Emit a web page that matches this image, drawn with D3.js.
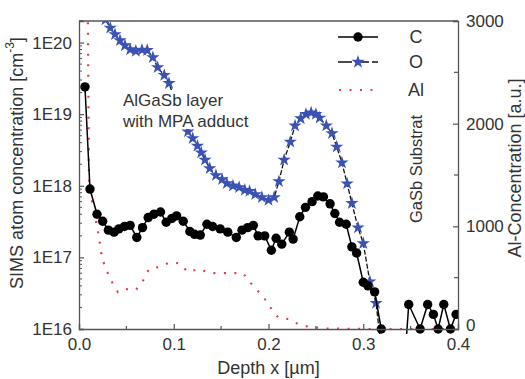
<!DOCTYPE html>
<html>
<head>
<meta charset="utf-8">
<script src="https://cdn.jsdelivr.net/npm/d3@7"></script>
<style>
  body { margin: 0; background: #fff; }
  text { font-family: "Liberation Sans", Arial, sans-serif; fill: #333; }
</style>
</head>
<body>
<svg id="chart" width="525" height="379"></svg>
<script>
// depth in µm, C and O in atoms/cm^3 (left log axis), Al in a.u. (right axis)
const cDepth = [0.0063, 0.0116, 0.019, 0.025, 0.031, 0.037, 0.042, 0.048, 0.054, 0.061,
  0.067, 0.073, 0.079, 0.086, 0.092, 0.098, 0.103, 0.110, 0.117, 0.122,
  0.128, 0.135, 0.141, 0.149, 0.157, 0.166, 0.172, 0.178, 0.184, 0.189,
  0.196, 0.203, 0.208, 0.214, 0.222, 0.226, 0.233, 0.239, 0.246, 0.252,
  0.258, 0.265, 0.270, 0.275, 0.282, 0.288, 0.293, 0.300, 0.305, 0.312,
  0.319, 0.332, 0.345, 0.348, 0.360, 0.368, 0.374, 0.379, 0.385, 0.392, 0.398];
const cValue = [2.4e19, 9e17, 4e17, 3.2e17, 2.4e17, 2.25e17, 2.5e17, 2.7e17, 2.8e17, 1.9e17,
  2.6e17, 3.6e17, 4e17, 4.3e17, 3.1e17, 3.5e17, 3.8e17, 3.2e17, 2.3e17, 2.1e17,
  2.05e17, 2.9e17, 2.7e17, 2.5e17, 2.25e17, 1.9e17, 2.4e17, 2.6e17, 2.8e17, 2.0e17,
  2.0e17, 1.26e17, 1.85e17, 1.53e17, 2.25e17, 1.8e17, 3.7e17, 5e17, 6e17, 7.2e17,
  7e17, 5.6e17, 4.1e17, 3.1e17, 2.9e17, 1.4e17, 1.15e17, 4.5e16, 4e16, 3.3e16,
  1.0e16, null, 6e15, 2.2e16, 1.0e16, 2.2e16, 1.6e16, 1.0e16, 2.2e16, 1.0e16, 1.6e16];

const oDepth = [0.022, 0.028, 0.033, 0.038, 0.0433, 0.0485, 0.054, 0.060, 0.0665, 0.072, 0.078,
  0.083, 0.090, 0.095, 0.101, 0.108, 0.115, 0.120, 0.125, 0.129, 0.133,
  0.138, 0.1445, 0.151, 0.156, 0.1625, 0.169, 0.175, 0.180, 0.186, 0.193,
  0.200, 0.206, 0.211, 0.2165, 0.223, 0.228, 0.234, 0.2395, 0.245, 0.250,
  0.254, 0.261, 0.267, 0.272, 0.2775, 0.283, 0.288, 0.2945, 0.300, 0.307,
  0.3135, 0.318];
const oValue = [3e20, 2.1e20, 1.6e20, 1.3e20, 1.07e20, 9.1e19, 8e19, 7.6e19, 7.9e19, 7.8e19, 6.2e19,
  4.5e19, 3.5e19, 2.7e19, 1.6e19, 9e18, 5.7e18, 4.6e18, 3.6e18, 2.9e18, 2.3e18,
  1.75e18, 1.4e18, 1.23e18, 1.08e18, 1.0e18, 9.5e17, 8.7e17, 8.4e17, 7.6e17, 6.9e17,
  6.3e17, 6.9e17, 1.15e18, 2.3e18, 4.1e18, 6.9e18, 8.7e18, 1.0e19, 1.05e19, 1.0e19,
  8.9e18, 6.9e18, 5.4e18, 3.5e18, 2.1e18, 1.07e18, 5.7e17, 2.6e17, 1.57e17, 4.6e16,
  2.3e16, 7e15];

const alDepth = [0.009, 0.0106, 0.0148, 0.019, 0.021, 0.0243, 0.0285, 0.034, 0.041, 0.0485,
  0.060, 0.0675, 0.074, 0.0844, 0.096, 0.1055, 0.115, 0.1266, 0.138, 0.150,
  0.1615, 0.173, 0.1836, 0.194, 0.2016, 0.210, 0.2216, 0.233, 0.244, 0.260,
  0.300, 0.400];
const alValue = [3500, 1400, 1190, 1000, 895, 690, 585, 470, 360, 390,
  380, 470, 585, 605, 650, 640, 555, 585, 545, 545,
  545, 545, 420, 320, 215, 115, 95, 40, 20, 5,
  0, 0];

const xTicks = [0, 0.1, 0.2, 0.3, 0.4];
const xMinor = [0.05, 0.15, 0.25, 0.35];
const yTicks = [1e16, 1e17, 1e18, 1e19, 1e20];
const rTicks = [0, 1000, 2000, 3000];
const rMinor = [500, 1500, 2500];

const svg = d3.select("#chart");
const mLeft = 79, mRight = 458, mTop = 21, mBottom = 329;

const x = d3.scaleLinear().domain([0, 0.4]).range([mLeft, mRight]);
const y = d3.scaleLog().domain([1e16, 2e20]).range([mBottom, mTop]);
const yR = d3.scaleLinear().domain([0, 3000]).range([mBottom, mTop]);

svg.append("clipPath").attr("id", "plotClip")
  .append("rect").attr("x", mLeft).attr("y", mTop)
  .attr("width", mRight - mLeft).attr("height", mBottom - mTop + 5);

const plot = svg.append("g").attr("clip-path", "url(#plotClip)");

// Al, dotted red line on the right axis
const alData = alDepth.map((d, i) => [d, alValue[i]]);
plot.append("path")
  .attr("d", d3.line().x(d => x(d[0])).y(d => yR(d[1]))(alData))
  .attr("fill", "none")
  .attr("stroke", "#e0404e")
  .attr("stroke-width", 2.2)
  .attr("stroke-dasharray", "2,8.5");

// O, dashed black line with blue stars
const oData = oDepth.map((d, i) => [d, oValue[i]]);
plot.append("path")
  .attr("d", d3.line().x(d => x(d[0])).y(d => y(d[1]))(oData))
  .attr("fill", "none")
  .attr("stroke", "#111")
  .attr("stroke-width", 1.3)
  .attr("stroke-dasharray", "5,2");

const star = d3.symbol().type(d3.symbolStar).size(55);
plot.selectAll(".star")
  .data(oData.filter(d => d[1] >= 1e16))
  .join("path")
  .attr("class", "star")
  .attr("d", star)
  .attr("transform", d => `translate(${x(d[0])},${y(d[1])})`)
  .attr("fill", "#3b52b5");

// C, solid black line with circles
const cData = cDepth.map((d, i) => [d, cValue[i]]);
plot.append("path")
  .attr("d", d3.line()
    .defined(d => d[1] !== null)
    .x(d => x(d[0])).y(d => y(d[1]))(cData))
  .attr("fill", "none")
  .attr("stroke", "#000")
  .attr("stroke-width", 1.5);

plot.selectAll(".dot")
  .data(cData.filter(d => d[1] !== null && d[1] >= 1e16))
  .join("circle")
  .attr("class", "dot")
  .attr("cx", d => x(d[0]))
  .attr("cy", d => y(d[1]))
  .attr("r", 4.7)
  .attr("fill", "#000");

// annotation, white box hides the line behind it
svg.append("rect")
  .attr("x", 121).attr("y", 90).attr("width", 140).attr("height", 39)
  .attr("fill", "#fff");
svg.append("text").attr("x", 123).attr("y", 106)
  .style("font-size", "17px").text("AlGaSb layer");
svg.append("text").attr("x", 123).attr("y", 127)
  .style("font-size", "17px").text("with MPA adduct");

svg.append("text")
  .attr("transform", "translate(416,169) rotate(-90)")
  .attr("text-anchor", "middle")
  .attr("dominant-baseline", "central")
  .style("font-size", "16.5px")
  .text("GaSb Substrat");

// axes
const axisColor = "#555";
svg.append("line").attr("x1", mLeft).attr("x2", mRight).attr("y1", mTop).attr("y2", mTop)
  .attr("stroke", axisColor).attr("stroke-width", 1.3);

const xAxis = svg.append("g")
  .attr("transform", `translate(0,${mBottom})`)
  .call(d3.axisBottom(x).tickValues(xTicks).tickSize(-5).tickPadding(9)
    .tickFormat(d3.format(".1f")));
svg.append("g").selectAll("line")
  .data(xMinor).join("line")
  .attr("x1", d => x(d)).attr("x2", d => x(d))
  .attr("y1", mBottom).attr("y2", mBottom - 3)
  .attr("stroke", axisColor).attr("stroke-width", 1.2);

const yAxis = svg.append("g")
  .attr("transform", `translate(${mLeft},0)`)
  .call(d3.axisLeft(y).tickValues(yTicks).tickSize(-5).tickPadding(7)
    .tickFormat(d => "1E" + Math.round(Math.log10(d))));
const yMinor = [];
for (let e = 16; e <= 20; e++) {
  for (let m = 2; m <= 9; m++) {
    const v = m * Math.pow(10, e);
    if (v <= 2e20) yMinor.push(v);
  }
}
svg.append("g").selectAll("line")
  .data(yMinor).join("line")
  .attr("x1", mLeft).attr("x2", mLeft + 3)
  .attr("y1", d => y(d)).attr("y2", d => y(d))
  .attr("stroke", axisColor).attr("stroke-width", 1);

const rAxis = svg.append("g")
  .attr("transform", `translate(${mRight},0)`)
  .call(d3.axisRight(yR).tickValues(rTicks).tickSize(-5).tickPadding(8)
    .tickFormat(d3.format("d")));
svg.append("g").selectAll("line")
  .data(rMinor).join("line")
  .attr("x1", mRight).attr("x2", mRight - 4)
  .attr("y1", d => yR(d)).attr("y2", d => yR(d))
  .attr("stroke", axisColor).attr("stroke-width", 1.2);

[xAxis, yAxis, rAxis].forEach(a => {
  a.select(".domain").attr("stroke", axisColor).attr("stroke-width", 1.3);
  a.selectAll(".tick line").attr("stroke", axisColor).attr("stroke-width", 1.2);
  a.selectAll(".tick text")
    .attr("fill", "#333")
    .style("font-family", "'Liberation Sans', Arial, sans-serif")
    .style("font-size", "17px");
});
// the "0" of the right axis sits just above the "0.4" of the x axis
rAxis.selectAll(".tick text").filter(d => d === 0).attr("dy", "0.1em");

// axis titles
svg.append("text")
  .attr("x", x(0.2)).attr("y", 374)
  .attr("text-anchor", "middle")
  .style("font-size", "18px")
  .text("Depth x [µm]");

const yTitle = svg.append("text")
  .attr("transform", "translate(17,163) rotate(-90)")
  .attr("text-anchor", "middle")
  .attr("dominant-baseline", "central")
  .style("font-size", "18px");
yTitle.append("tspan").text("SIMS atom concentration [cm");
yTitle.append("tspan").attr("dy", -7).style("font-size", "12px").text("-3");
yTitle.append("tspan").attr("dy", 7).text("]");

svg.append("text")
  .attr("transform", "translate(515,168) rotate(-90)")
  .attr("text-anchor", "middle")
  .attr("dominant-baseline", "central")
  .style("font-size", "18px")
  .text("Al-Concentration [a.u.]");

// legend
const legendNames = ["C", "O", "Al"];
const legendY = [37, 62, 90];
const lg = svg.append("g");
lg.append("line").attr("x1", 338).attr("x2", 378).attr("y1", legendY[0]).attr("y2", legendY[0])
  .attr("stroke", "#000").attr("stroke-width", 1.5);
lg.append("circle").attr("cx", 358).attr("cy", legendY[0]).attr("r", 4.7).attr("fill", "#000");
lg.append("line").attr("x1", 338).attr("x2", 378).attr("y1", legendY[1]).attr("y2", legendY[1])
  .attr("stroke", "#111").attr("stroke-width", 1.5).attr("stroke-dasharray", "14,3");
lg.append("path").attr("d", star).attr("transform", `translate(358,${legendY[1]})`)
  .attr("fill", "#3b52b5");
lg.append("line").attr("x1", 339).attr("x2", 381).attr("y1", legendY[2]).attr("y2", legendY[2])
  .attr("stroke", "#e0404e").attr("stroke-width", 2.2).attr("stroke-dasharray", "2,8.5");
lg.selectAll(".lbl").data(legendNames).join("text")
  .attr("class", "lbl")
  .attr("x", 416).attr("y", (d, i) => legendY[i])
  .attr("text-anchor", "middle")
  .attr("dominant-baseline", "central")
  .style("font-size", "18px")
  .text(d => d);
</script>
</body>
</html>
